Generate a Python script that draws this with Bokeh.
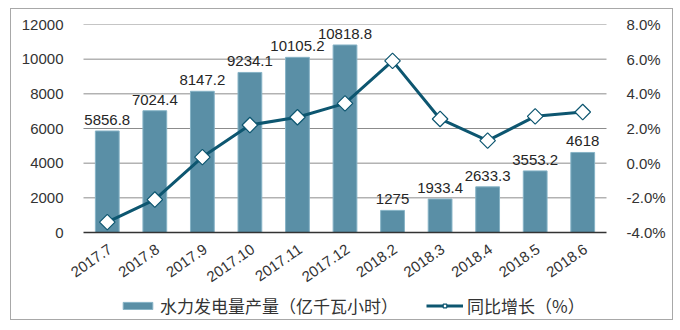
from math import pi
from bokeh.plotting import figure
from bokeh.models import (ColumnDataSource, Range1d, FactorRange, LinearAxis, PrintfTickFormatter,
                          FixedTicker, Legend, LegendItem, LabelSet)
from bokeh.core.properties import value
from bokeh.embed import file_html
from bokeh.resources import INLINE

months = ["2017.7", "2017.8", "2017.9", "2017.10", "2017.11", "2017.12",
          "2018.2", "2018.3", "2018.4", "2018.5", "2018.6"]
output = [5856.8, 7024.4, 8147.2, 9234.1, 10105.2, 10818.8,
          1275, 1933.4, 2633.3, 3553.2, 4618]
output_labels = ["5856.8", "7024.4", "8147.2", "9234.1", "10105.2", "10818.8",
                 "1275", "1933.4", "2633.3", "3553.2", "4618"]
growth = [-3.4, -2.1, 0.35, 2.2, 2.65, 3.45, 5.9, 2.55, 1.3, 2.7, 2.95]
left_ticks = [0, 2000, 4000, 6000, 8000, 10000, 12000]
right_ticks = [-4, -2, 0, 2, 4, 6, 8]

bar_name = "水力发电量产量（亿千瓦小时）"
line_name = "同比增长（%）"

FONT = "Liberation Sans"
CJK = "Noto Sans CJK SC"

# layout (pixels)
W, H = 663, 312
TOP, BOTTOM_PAD = 15, 2
PLOT_H = 208              # height of the value area
PLOT_W = 523              # width of the category area
SIDE = 16                 # extra room left and right of the category area
frame_h = H - TOP - BOTTOM_PAD
extra = (frame_h - PLOT_H) / PLOT_H
n = len(months)
cat_w = PLOT_W / n

lmin, lmax = left_ticks[0], left_ticks[-1]
rmin, rmax = right_ticks[0], right_ticks[-1]
y_range = Range1d(lmin - extra * (lmax - lmin), lmax)
pct_range = Range1d(rmin - extra * (rmax - rmin), rmax)
x_range = FactorRange(*months, range_padding=SIDE / cat_w, range_padding_units="absolute")

src = ColumnDataSource(dict(x=months, y=output, lab=output_labels, g=growth,
                            zero=[0] * n))
grid_src = ColumnDataSource(dict(y=left_ticks[1:], x0=[0] * (len(left_ticks) - 1),
                                 x1=[n] * (len(left_ticks) - 1)))

p = figure(x_range=x_range, y_range=y_range, width=W, height=H,
           output_backend="svg", toolbar_location=None,
           min_border_left=72 - SIDE, min_border_right=68 - SIDE, min_border_top=TOP,
           min_border_bottom=BOTTOM_PAD,
           margin=(8, 0, 0, 10), styles={"border": "1px solid #a8a8a8"})
p.outline_line_color = None
p.extra_y_ranges = {"pct": pct_range}
p.xgrid.grid_line_color = None
p.ygrid.grid_line_color = None

# horizontal grid lines over the category area only
p.segment(x0="x0", x1="x1", y0="y", y1="y", source=grid_src, line_color="#8c8c8c", line_width=1)

bars = p.vbar(x="x", top="y", width=0.5, source=src, fill_color="#5A8FA6",
              line_color="#86B3C6", line_width=1)

# zero (category) axis line
p.segment(x0=[0], x1=[n], y0=[0], y1=[0], line_color="#333333", line_width=1.5)

line = p.line(x="x", y="g", source=src, y_range_name="pct", line_color="#0D5670", line_width=3)
pts = p.scatter(x="x", y="g", source=src, y_range_name="pct", marker="square", angle=pi / 4,
                size=11, fill_color="white", line_color="#0D5670", line_width=1.2)

labels = LabelSet(x="x", y="y", text="lab", source=src, text_align="center",
                  text_baseline="bottom", y_offset=6, text_font=value(FONT),
                  text_font_size="15px", text_color="#262626")
p.add_layout(labels)

# category labels under the zero line
xlabels = LabelSet(x="x", y="zero", text="x", source=src, angle=35 * pi / 180,
                   text_align="right", text_baseline="middle", x_offset=3, y_offset=-15,
                   text_font=value(FONT), text_font_size="15px", text_color="#333333")
p.add_layout(xlabels)
p.xaxis.visible = False

# left axis
p.yaxis.ticker = FixedTicker(ticks=left_ticks)
p.yaxis.axis_line_color = None
p.yaxis.major_tick_line_color = None
p.yaxis.minor_tick_line_color = None
p.yaxis.major_label_text_font = FONT
p.yaxis.major_label_text_font_size = "15px"
p.yaxis.major_label_text_color = "#333333"
p.yaxis.major_label_standoff = 14 - SIDE

ax2 = LinearAxis(y_range_name="pct", ticker=FixedTicker(ticks=right_ticks),
                 formatter=PrintfTickFormatter(format="%.1f%%"))
ax2.axis_line_color = None
ax2.major_tick_line_color = None
ax2.minor_tick_line_color = None
ax2.major_label_text_font = FONT
ax2.major_label_text_font_size = "15px"
ax2.major_label_text_color = "#333333"
ax2.major_label_standoff = 14 - SIDE
p.add_layout(ax2, "right")

legend = Legend(items=[LegendItem(label=bar_name, renderers=[bars]),
                       LegendItem(label=line_name, renderers=[line, pts])],
                orientation="horizontal", location=(36 + SIDE, 1),
                label_text_font=CJK, label_text_font_size="17px", label_text_color="#333333",
                glyph_width=37, glyph_height=9, spacing=28, padding=0, margin=0,
                label_standoff=4, border_line_color=None, background_fill_alpha=0)
p.add_layout(legend, "center")

open("out.html", "w").write(file_html(p, INLINE))
